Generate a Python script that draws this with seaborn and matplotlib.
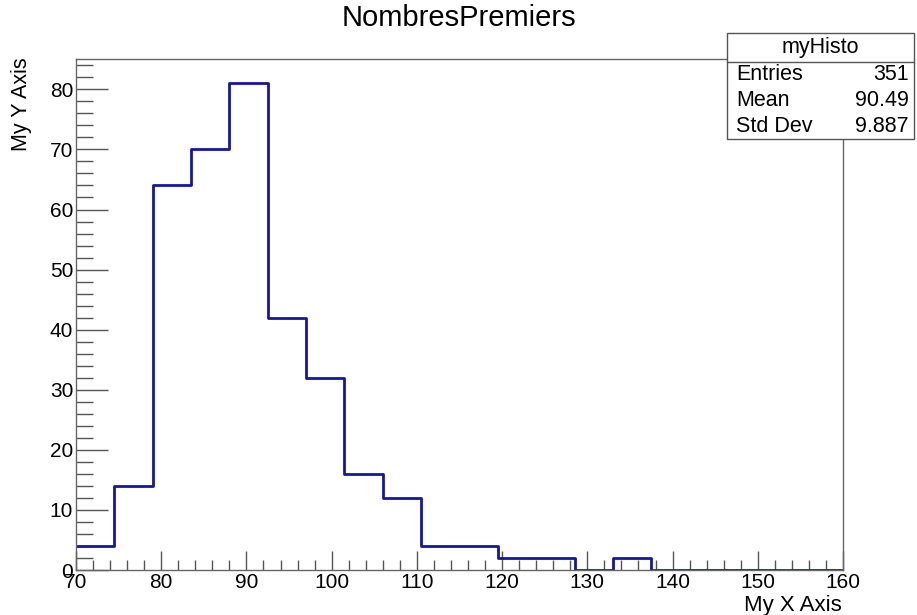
import matplotlib
matplotlib.use("Agg")
import matplotlib.pyplot as plt
from matplotlib.patches import Rectangle
from matplotlib.ticker import MultipleLocator
import seaborn as sns
import numpy as np
import pandas as pd

# histogram data (20 bins of width 4.5 between 70 and 160)
bin_edges = [70, 74.5, 79, 83.5, 88, 92.5, 97, 101.5, 106, 110.5, 115,
             119.5, 124, 128.5, 133, 137.5, 142, 146.5, 151, 155.5, 160]
counts = [4, 14, 64, 70, 81, 42, 32, 16, 12, 4, 4, 2, 2, 0, 2, 0, 0, 0, 0, 0]

hist_name = "myHisto"
stat_labels = ["Entries", "Mean", "Std Dev"]
stat_values = ["351", "90.49", "9.887"]

centers = [(a + b) / 2 for a, b in zip(bin_edges[:-1], bin_edges[1:])]
df = pd.DataFrame({"x": centers, "n": counts})

sns.set_style("white")
plt.rcParams['font.family'] = ['Liberation Sans', 'DejaVu Sans']
plt.rcParams['text.color'] = 'black'

fig = plt.figure(figsize=(9.17, 6.15), dpi=100)
W, H = 917, 615
ax = fig.add_axes([76 / W, 1 - 570 / H, (843 - 76) / W, (570 - 59) / H])

sns.histplot(data=df, x="x", weights="n", bins=bin_edges, element="step",
             fill=False, color="#1515a5", linewidth=2.0, ax=ax)

ax.set_xlim(70, 160)
ax.set_ylim(0, 85.05)
ax.xaxis.set_major_locator(MultipleLocator(10))
ax.xaxis.set_minor_locator(MultipleLocator(2))
ax.yaxis.set_major_locator(MultipleLocator(10))
ax.yaxis.set_minor_locator(MultipleLocator(2))
ax.tick_params(which="both", direction="in", bottom=True, left=True, top=False, right=False,
               color="#555555", labelcolor="black", width=1.0, labelsize=15, pad=2)
ax.tick_params(axis="x", which="major", length=14)
ax.tick_params(axis="x", which="minor", length=7)
ax.tick_params(axis="y", which="major", length=23)
ax.tick_params(axis="y", which="minor", length=12)
for s in ax.spines.values():
    s.set_color("#666666")
    s.set_linewidth(1.0)

ax.set_xlabel("")
ax.set_ylabel("")
fig.text(842 / W, 1 - 606 / H, "My X Axis", ha="right", va="center", fontsize=16)
fig.text(22 / W, 1 - 57 / H, "My Y Axis", ha="center", va="top", rotation=90, fontsize=15.5)
fig.text(459 / W, 1 - 18 / H, "NombresPremiers", ha="center", va="center", fontsize=21)

# stats box
x0, x1 = 727 / W, 914 / W
y_top, y_sep, y_bot = 1 - 33 / H, 1 - 62 / H, 1 - 139 / H
fig.patches.append(Rectangle((x0, y_bot), x1 - x0, y_top - y_bot, transform=fig.transFigure,
                             facecolor="white", edgecolor="#555555", linewidth=1.0, zorder=5))
fig.lines.append(plt.Line2D([x0, x1], [y_sep, y_sep], transform=fig.transFigure,
                            color="#555555", linewidth=1.0, zorder=6))
fig.text((x0 + x1) / 2, (y_top + y_sep) / 2, hist_name, ha="center", va="center",
         fontsize=15.5, zorder=7)
row_h = (y_sep - y_bot) / len(stat_labels)
for i, (lab, val) in enumerate(zip(stat_labels, stat_values)):
    yc = y_sep - row_h * (i + 0.5)
    fig.text(x0 + 9 / W, yc, lab, ha="left", va="center", fontsize=15.5, zorder=7)
    fig.text(x1 - 5 / W, yc, val, ha="right", va="center", fontsize=15.5, zorder=7)

fig.savefig("out.png", dpi=100)
